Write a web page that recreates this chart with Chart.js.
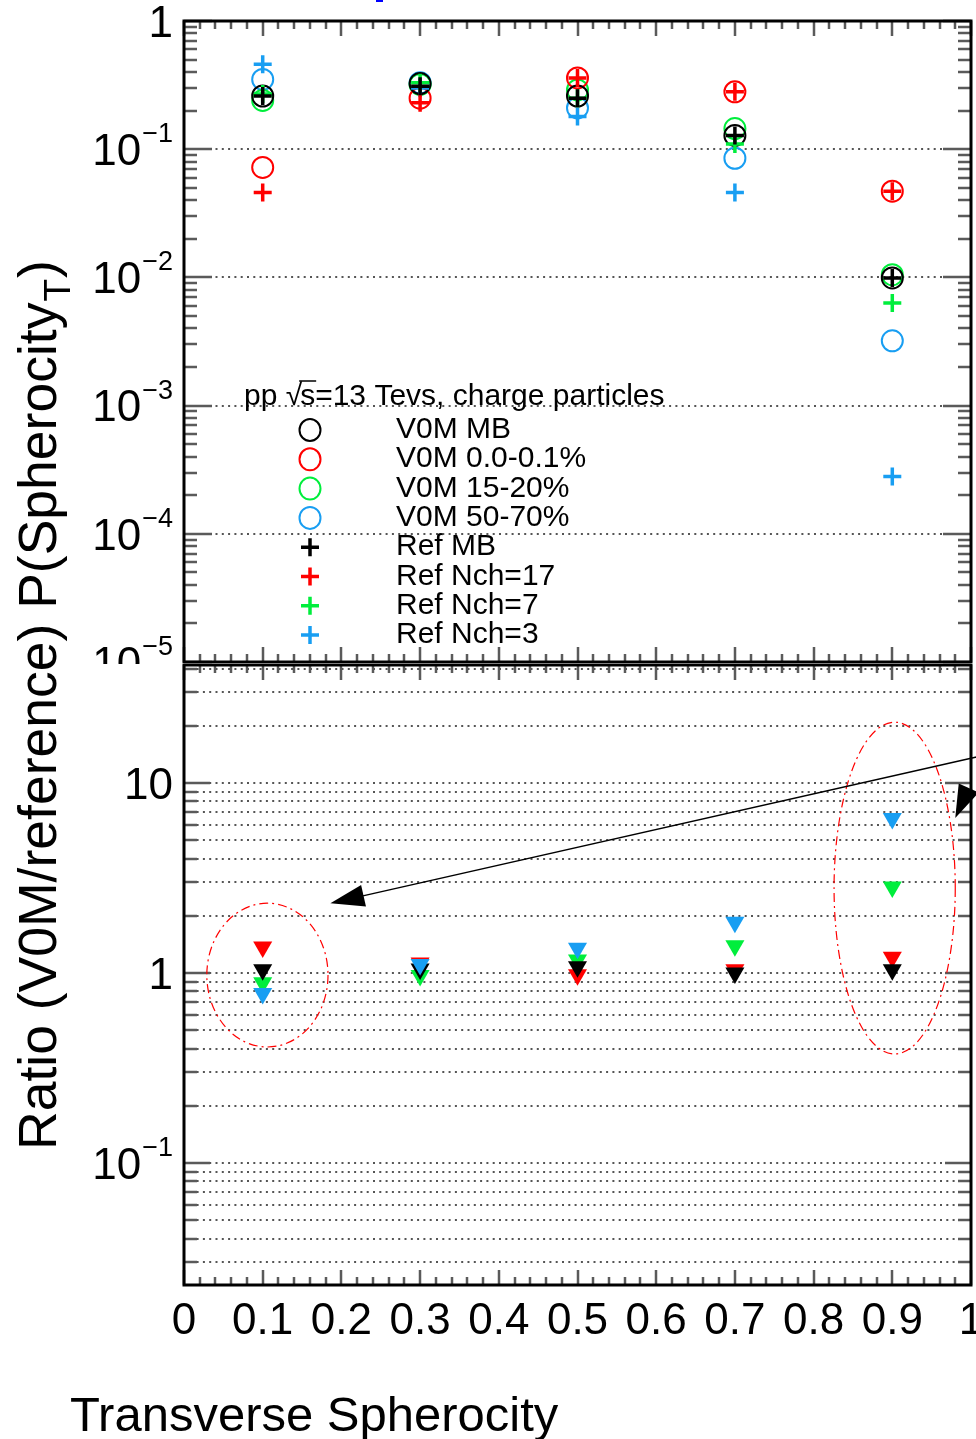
<!DOCTYPE html>
<html>
<head>
<meta charset="utf-8">
<script src="https://cdn.jsdelivr.net/npm/chart.js@4.4.0/dist/chart.umd.min.js"></script>
<style>
html, body { margin: 0; padding: 0; background: #fff; width: 976px; height: 1439px; overflow: hidden; }
#top { position: absolute; left: 0; top: 0; width: 1000px; height: 664px; }
#bot { position: absolute; left: 0; top: 664px; width: 1000px; height: 775px; }
</style>
</head>
<body>
<div id="top"><canvas id="topChart" width="1000" height="664"></canvas></div>
<div id="bot"><canvas id="botChart" width="1000" height="775"></canvas></div>
<script>
// spherocity bins
const spherocity = [0.1, 0.3, 0.5, 0.7, 0.9];

const v0mNames = ['V0M MB', 'V0M 0.0-0.1%', 'V0M 15-20%', 'V0M 50-70%'];
const refNames = ['Ref MB', 'Ref Nch=17', 'Ref Nch=7', 'Ref Nch=3'];
const colors = ['#000000', '#ff0000', '#00ee3c', '#189ef2'];

// P(Spherocity_T), open circles
const v0mMB  = [0.26, 0.325, 0.26, 0.128, 0.0099];
const v0m0   = [0.072, 0.25, 0.36, 0.28, 0.047];
const v0m15  = [0.24, 0.32, 0.29, 0.145, 0.0105];
const v0m50  = [0.35, 0.33, 0.21, 0.085, 0.0032];
// reference, crosses
const refMB  = [0.26, 0.31, 0.25, 0.128, 0.0099];
const refN17 = [0.046, 0.23, 0.36, 0.28, 0.047];
const refN7  = [0.27, 0.33, 0.25, 0.11, 0.0063];
const refN3  = [0.46, 0.30, 0.18, 0.046, 0.00028];
// ratio V0M / reference
const ratioMB  = [1.04, 1.05, 1.08, 1.0, 1.04];
const ratioN17 = [1.37, 1.13, 0.98, 1.04, 1.21];
const ratioN7  = [0.89, 0.97, 1.17, 1.39, 2.84];
const ratioN3  = [0.78, 1.11, 1.35, 1.85, 6.5];

const topExps = [0, -1, -2, -3, -4, -5];
const ratioExps = [1, 0, -1];
const xTickLabels = ['0', '0.1', '0.2', '0.3', '0.4', '0.5', '0.6', '0.7', '0.8', '0.9', '1'];

// red dash-dot ellipses and arrows (ratio panel data coords)
const ellipses = [
  { x0: 0.029, x1: 0.183, y0: 0.408, y1: 2.33 },
  { x0: 0.826, x1: 0.980, y0: 0.375, y1: 20.9 }
];
const arrowFrom = { x: 1.007, y: 13.7 };
const arrowTo = { x: 0.186, y: 2.33 };
const arrow2Tip = { x: 0.980, y: 6.54 };

const FONT = "'Liberation Sans', Arial, sans-serif";
const DOTS = [2, 4.3];

function logValues(min, max) {
  const out = [];
  for (let e = Math.floor(Math.log10(min)); e <= Math.ceil(Math.log10(max)); e++) {
    for (let m = 1; m <= 9; m++) {
      const v = m * Math.pow(10, e);
      if (v >= min * 0.9999 && v <= max * 1.0001) out.push({ v, major: m === 1 });
    }
  }
  return out;
}

function drawGrid(chart, all) {
  const { ctx, chartArea: a, scales: { y } } = chart;
  ctx.save();
  ctx.setLineDash(DOTS);
  ctx.strokeStyle = '#555';
  ctx.lineWidth = 2;
  logValues(y.min, y.max).forEach(t => {
    if (!all && !t.major) return;
    const py = Math.round(y.getPixelForValue(t.v));
    if (py < a.top + 4 || py > a.bottom - 4) return;
    ctx.beginPath();
    ctx.moveTo(a.left, py);
    ctx.lineTo(a.right, py);
    ctx.stroke();
  });
  ctx.restore();
}

function drawFrame(chart, yMajor, yMinor) {
  const { ctx, chartArea: a, scales: { x, y } } = chart;
  ctx.save();
  ctx.strokeStyle = '#5a5a5a';
  ctx.lineWidth = 2.5;
  ctx.beginPath();
  logValues(y.min, y.max).forEach(t => {
    const py = Math.round(y.getPixelForValue(t.v));
    const len = t.major ? yMajor : yMinor;
    ctx.moveTo(a.left, py); ctx.lineTo(a.left + len, py);
    ctx.moveTo(a.right, py); ctx.lineTo(a.right - len, py);
  });
  for (let i = 0; i <= 50; i++) {
    const px = Math.round(x.getPixelForValue(i / 50));
    const len = i % 5 === 0 ? 15 : 8;
    ctx.moveTo(px, a.top); ctx.lineTo(px, a.top + len);
    ctx.moveTo(px, a.bottom); ctx.lineTo(px, a.bottom - len);
  }
  ctx.stroke();
  ctx.strokeStyle = '#000';
  ctx.lineWidth = 3;
  ctx.strokeRect(a.left, a.top, a.right - a.left, a.bottom - a.top);
  ctx.restore();
}

function drawPowLabel(ctx, exp, xRight, y) {
  const base = 44, sup = 27;
  ctx.fillStyle = '#000';
  ctx.textAlign = 'right';
  ctx.textBaseline = 'alphabetic';
  const baseY = y + base * 0.358;
  if (exp === 0 || exp === 1) {
    ctx.font = base + 'px ' + FONT;
    ctx.fillText(exp === 0 ? '1' : '10', xRight, baseY);
    return;
  }
  ctx.font = sup + 'px ' + FONT;
  const s = '\u2212' + Math.abs(exp);
  const w = ctx.measureText(s).width;
  ctx.fillText(s, xRight, y - 7);
  ctx.font = base + 'px ' + FONT;
  ctx.fillText('10', xRight - w - 1, baseY);
}

// one title spans both pads, drawn in each with its own offset
function drawYTitle(ctx, offY) {
  ctx.save();
  ctx.translate(56, 1150 - offY);
  ctx.rotate(-Math.PI / 2);
  ctx.fillStyle = '#000';
  ctx.textAlign = 'left';
  ctx.textBaseline = 'alphabetic';
  ctx.font = '53.5px ' + FONT;
  const main = 'Ratio (V0M/reference) P(Spherocity';
  ctx.fillText(main, 0, 0);
  let w = ctx.measureText(main).width;
  ctx.font = '37px ' + FONT;
  ctx.fillText('T', w + 1, 14);
  w += ctx.measureText('T').width + 2;
  ctx.font = '53.5px ' + FONT;
  ctx.fillText(')', w, 0);
  ctx.restore();
}

function drawLegend(ctx) {
  ctx.save();
  ctx.fillStyle = '#000';
  ctx.textAlign = 'left';
  ctx.textBaseline = 'alphabetic';
  ctx.font = '30px ' + FONT;
  // header with a square root over s
  let x = 244;
  const hy = 405;
  ctx.fillText('pp ', x, hy);
  x += ctx.measureText('pp ').width;
  ctx.fillText('\u221A', x, hy);
  x += ctx.measureText('\u221A').width - 2;
  const sw = ctx.measureText('s').width;
  ctx.fillText('s', x, hy);
  ctx.strokeStyle = '#000';
  ctx.lineWidth = 1.5;
  ctx.beginPath();
  ctx.moveTo(x - 1, hy - 24);
  ctx.lineTo(x + sw + 1, hy - 24);
  ctx.stroke();
  x += sw;
  ctx.fillText('=13 Tevs, charge particles', x, hy);

  const names = v0mNames.concat(refNames);
  names.forEach((name, i) => {
    const cy = 427 + i * 29.3;
    ctx.fillStyle = '#000';
    ctx.fillText(name, 396, cy + 11);
    const c = colors[i % 4];
    ctx.strokeStyle = c;
    const my = cy + 3;
    if (i < 4) {
      ctx.lineWidth = 2;
      ctx.beginPath();
      ctx.ellipse(310, my, 10.5, 11, 0, 0, 2 * Math.PI);
      ctx.stroke();
    } else {
      ctx.lineWidth = 3.5;
      ctx.beginPath();
      ctx.moveTo(301, my); ctx.lineTo(319, my);
      ctx.moveTo(310, my - 9); ctx.lineTo(310, my + 9);
      ctx.stroke();
    }
  });
  ctx.restore();
}

function head(ctx, tx, ty, dx, dy, len, half) {
  const n = Math.hypot(dx, dy);
  const ux = dx / n, uy = dy / n;
  const bx = tx - ux * len, by = ty - uy * len;
  ctx.beginPath();
  ctx.moveTo(tx, ty);
  ctx.lineTo(bx - uy * half, by + ux * half);
  ctx.lineTo(bx + uy * half, by - ux * half);
  ctx.closePath();
  ctx.fill();
}

function pts(values) {
  return spherocity.map((x, i) => ({ x, y: values[i] }));
}

function circleSet(label, values, color, order) {
  return {
    label, data: pts(values), order, showLine: false,
    pointStyle: 'circle', pointRadius: 10.5, pointBorderWidth: 2,
    pointBorderColor: color, pointBackgroundColor: 'rgba(0,0,0,0)'
  };
}

function crossSet(label, values, color, order) {
  return {
    label, data: pts(values), order, showLine: false,
    pointStyle: 'cross', pointRadius: 9, pointBorderWidth: 3.5,
    pointBorderColor: color, pointBackgroundColor: color
  };
}

function triSet(label, values, color, order) {
  return {
    label, data: pts(values), order, showLine: false,
    pointStyle: 'triangle', pointRotation: 180, pointRadius: 11, pointBorderWidth: 0,
    pointBorderColor: color, pointBackgroundColor: color
  };
}

const topPlugin = {
  id: 'topPad',
  beforeDatasetsDraw(chart) { drawGrid(chart, false); },
  afterDatasetsDraw(chart) { drawFrame(chart, 28, 13); },
  afterDraw(chart) {
    const { ctx, scales: { y } } = chart;
    topExps.forEach(e => drawPowLabel(ctx, e, 173, y.getPixelForValue(Math.pow(10, e))));
    drawLegend(ctx);
    drawYTitle(ctx, 0);
    ctx.fillStyle = '#0000ff';
    ctx.fillRect(376, 0, 7, 2);
  }
};

const botPlugin = {
  id: 'ratioPad',
  beforeDatasetsDraw(chart) { drawGrid(chart, true); },
  afterDatasetsDraw(chart) { drawFrame(chart, 26, 13); },
  afterDraw(chart) {
    const { ctx, scales: { x, y } } = chart;
    ratioExps.forEach(e => drawPowLabel(ctx, e, 173, y.getPixelForValue(Math.pow(10, e))));
    drawYTitle(ctx, 664);

    ctx.save();
    ctx.fillStyle = '#000';
    ctx.font = '49px ' + FONT;
    ctx.textAlign = 'left';
    ctx.textBaseline = 'alphabetic';
    ctx.fillText('Transverse Spherocity', 70, 1431 - 664);

    ctx.strokeStyle = '#ff0000';
    ctx.lineWidth = 1.2;
    ctx.setLineDash([9, 4, 2, 4]);
    ellipses.forEach(e => {
      const l = x.getPixelForValue(e.x0), r = x.getPixelForValue(e.x1);
      const t = y.getPixelForValue(e.y1), b = y.getPixelForValue(e.y0);
      ctx.beginPath();
      ctx.ellipse((l + r) / 2, (t + b) / 2, (r - l) / 2, (b - t) / 2, 0, 0, 2 * Math.PI);
      ctx.stroke();
    });
    ctx.setLineDash([]);

    const fx = x.getPixelForValue(arrowFrom.x), fy = y.getPixelForValue(arrowFrom.y);
    const tx = x.getPixelForValue(arrowTo.x), ty = y.getPixelForValue(arrowTo.y);
    ctx.strokeStyle = '#000';
    ctx.fillStyle = '#000';
    ctx.lineWidth = 1.5;
    ctx.beginPath();
    ctx.moveTo(fx, fy);
    ctx.lineTo(tx + (fx - tx) * 0.04, ty + (fy - ty) * 0.04);
    ctx.stroke();
    head(ctx, tx, ty, tx - fx, ty - fy, 34, 11);
    head(ctx, x.getPixelForValue(arrow2Tip.x), y.getPixelForValue(arrow2Tip.y), -35, 78, 33, 11);
    ctx.restore();
  }
};

const baseOpts = {
  responsive: false,
  animation: false,
  devicePixelRatio: 1,
  events: [],
  plugins: { legend: { display: false }, tooltip: { enabled: false } }
};

new Chart(document.getElementById('topChart'), {
  type: 'scatter',
  data: {
    datasets: [
      circleSet(v0mNames[0], v0mMB, colors[0], 5),
      circleSet(v0mNames[1], v0m0, colors[1], 6),
      circleSet(v0mNames[2], v0m15, colors[2], 7),
      circleSet(v0mNames[3], v0m50, colors[3], 8),
      crossSet(refNames[0], refMB, colors[0], 1),
      crossSet(refNames[1], refN17, colors[1], 2),
      crossSet(refNames[2], refN7, colors[2], 3),
      crossSet(refNames[3], refN3, colors[3], 4)
    ]
  },
  options: Object.assign({}, baseOpts, {
    layout: { autoPadding: false, padding: { left: 184, right: 29, top: 21, bottom: 2 } },
    scales: {
      x: { type: 'linear', min: 0, max: 1, display: false },
      y: { type: 'logarithmic', min: 1e-5, max: 1, display: false }
    }
  }),
  plugins: [topPlugin]
});

// lower order is drawn on top
new Chart(document.getElementById('botChart'), {
  type: 'scatter',
  data: {
    datasets: [
      triSet('V0M MB / Ref MB', ratioMB, colors[0], 2),
      triSet('V0M 0.0-0.1% / Ref Nch=17', ratioN17, colors[1], 3),
      triSet('V0M 15-20% / Ref Nch=7', ratioN7, colors[2], 4),
      triSet('V0M 50-70% / Ref Nch=3', ratioN3, colors[3], 1)
    ]
  },
  options: Object.assign({}, baseOpts, {
    layout: { autoPadding: false, padding: { left: 184, right: 29, top: 1, bottom: 94 } },
    scales: {
      x: {
        type: 'linear', min: 0, max: 1, position: 'bottom',
        grid: { display: false, drawTicks: false },
        border: { display: false },
        ticks: {
          stepSize: 0.1, autoSkip: false, maxRotation: 0, padding: 10,
          color: '#000', font: { family: FONT, size: 44 },
          callback: (v, i) => xTickLabels[i]
        },
        afterFit: s => { s.height = 60; }
      },
      y: { type: 'logarithmic', min: 0.0228, max: 41.8, display: false }
    }
  }),
  plugins: [botPlugin]
});
</script>
</body>
</html>
